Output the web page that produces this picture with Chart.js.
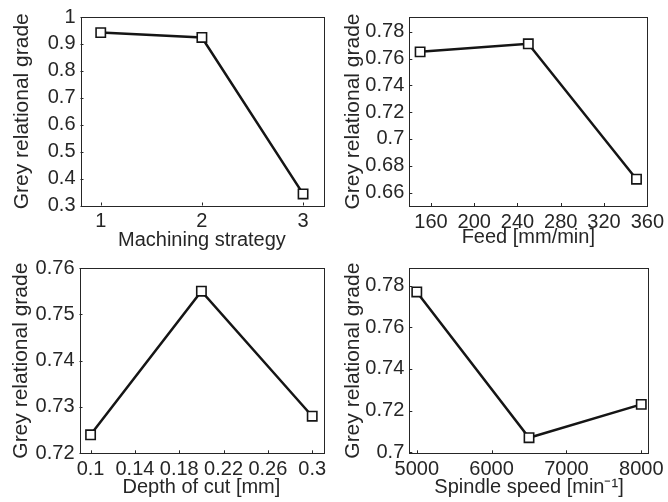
<!DOCTYPE html>
<html>
<head>
<meta charset="utf-8">
<script src="https://cdn.jsdelivr.net/npm/chart.js@4.4.1/dist/chart.umd.min.js"></script>
<style>
  body { margin: 0; background: #fff; }
  #wrap { position: relative; width: 668px; height: 502px; overflow: hidden; }
  .panel { position: absolute; width: 334px; height: 251px; }
</style>
</head>
<body>
<div id="wrap">
  <div class="panel" style="left:0;top:0"><canvas id="c1"></canvas></div>
  <div class="panel" style="left:334px;top:0"><canvas id="c2"></canvas></div>
  <div class="panel" style="left:0;top:251px"><canvas id="c3"></canvas></div>
  <div class="panel" style="left:334px;top:251px"><canvas id="c4"></canvas></div>
</div>
<script>
// Machining strategy
const strategyX = [1, 2, 3];
const strategyGrade = [0.942, 0.924, 0.343];
const strategyXTicks = [1, 2, 3];
const strategyYTicks = [0.3, 0.4, 0.5, 0.6, 0.7, 0.8, 0.9, 1];

// Feed
const feedX = [150, 250, 350];
const feedGrade = [0.765, 0.771, 0.670];
const feedXTicks = [160, 200, 240, 280, 320, 360];
const feedYTicks = [0.66, 0.68, 0.7, 0.72, 0.74, 0.76, 0.78];

// Depth of cut
const depthX = [0.1, 0.2, 0.3];
const depthGrade = [0.724, 0.755, 0.728];
const depthXTicks = [0.1, 0.14, 0.18, 0.22, 0.26, 0.3];
const depthYTicks = [0.72, 0.73, 0.74, 0.75, 0.76];

// Spindle speed
const speedX = [5000, 6500, 8000];
const speedGrade = [0.777, 0.707, 0.723];
const speedXTicks = [5000, 6000, 7000, 8000];
const speedYTicks = [0.7, 0.72, 0.74, 0.76, 0.78];

const yTitle = 'Grey relational grade';
const textColor = '#262626';
const fontFamily = '"Liberation Sans", Arial, Helvetica, sans-serif';

// box around the plot + short inward tick marks (matlab look)
const framePlugin = {
  id: 'frame',
  afterDraw(chart) {
    const { ctx, chartArea: a, scales } = chart;
    ctx.save();
    ctx.strokeStyle = textColor;
    ctx.lineWidth = 1;
    ctx.strokeRect(Math.round(a.left) + 0.5, Math.round(a.top) + 0.5,
      Math.round(a.right - a.left), Math.round(a.bottom - a.top));
    ctx.beginPath();
    scales.x.ticks.forEach(t => {
      const px = Math.round(scales.x.getPixelForValue(t.value)) + 0.5;
      ctx.moveTo(px, a.bottom);
      ctx.lineTo(px, a.bottom - 3);
    });
    scales.y.ticks.forEach(t => {
      const py = Math.round(scales.y.getPixelForValue(t.value)) + 0.5;
      ctx.moveTo(a.left, py);
      ctx.lineTo(a.left + 3, py);
    });
    ctx.stroke();
    ctx.restore();
  }
};

function makePanel(id, xs, ys, xTicks, yTicks, xRange, yRange, xTitle, box) {
  const ctx = document.getElementById(id).getContext('2d');
  return new Chart(ctx, {
    type: 'line',
    data: {
      datasets: [{
        data: xs.map((x, i) => ({ x: x, y: ys[i] })),
        borderColor: '#151515',
        borderWidth: 2.5,
        pointStyle: 'rect',
        pointRadius: 6.6,
        pointBorderWidth: 1.6,
        pointBorderColor: '#151515',
        pointBackgroundColor: '#ffffff',
        tension: 0,
        clip: false
      }]
    },
    options: {
      responsive: true,
      maintainAspectRatio: false,
      animation: false,
      events: [],
      layout: { padding: { top: box.top, right: box.right, left: 0, bottom: 0 } },
      plugins: { legend: { display: false }, tooltip: { enabled: false } },
      scales: {
        x: {
          type: 'linear',
          min: xRange[0],
          max: xRange[1],
          afterBuildTicks: s => { s.ticks = xTicks.map(v => ({ value: v })); },
          afterFit: s => { s.height = box.xh; },
          grid: { display: false, drawTicks: false },
          border: { display: false },
          ticks: {
            color: textColor,
            padding: 4,
            maxRotation: 0,
            autoSkip: false,
            font: { family: fontFamily, size: 20 },
            callback: v => String(v)
          },
          title: {
            display: true,
            text: xTitle,
            color: textColor,
            padding: { top: 0, bottom: box.xtp },
            font: { family: fontFamily, size: 20 }
          }
        },
        y: {
          type: 'linear',
          min: yRange[0],
          max: yRange[1],
          afterBuildTicks: s => { s.ticks = yTicks.map(v => ({ value: v })); },
          afterFit: s => { s.width = box.yw; },
          grid: { display: false, drawTicks: false },
          border: { display: false },
          ticks: {
            color: textColor,
            padding: 5,
            autoSkip: false,
            font: { family: fontFamily, size: 20 },
            callback: v => String(v)
          },
          title: {
            display: true,
            text: yTitle,
            color: textColor,
            padding: { top: box.ytp, bottom: 0 },
            font: { family: fontFamily, size: 21 }
          }
        }
      }
    },
    plugins: [framePlugin]
  });
}

makePanel('c1', strategyX, strategyGrade, strategyXTicks, strategyYTicks,
  [0.8, 3.2], [0.3, 1], 'Machining strategy',
  { top: 13.5, right: 10.7, yw: 80.5, xh: 45.5, xtp: -1, ytp: 10 });

makePanel('c2', feedX, feedGrade, feedXTicks, feedYTicks,
  [140, 360], [0.65, 0.791], 'Feed [mm/min]',
  { top: 14, right: 15, yw: 75.3, xh: 45, xtp: 2, ytp: 7 });

makePanel('c3', depthX, depthGrade, depthXTicks, depthYTicks,
  [0.09, 0.31], [0.72, 0.76], 'Depth of cut [mm]',
  { top: 10, right: 10.7, yw: 79.5, xh: 48.7, xtp: 2.5, ytp: 8.6 });

makePanel('c4', speedX, speedGrade, speedXTicks, speedYTicks,
  [4900, 8100], [0.6995, 0.7885], ['Spindle speed [min\u207B\u00B9]'],
  { top: 10, right: 15, yw: 75.3, xh: 48.7, xtp: 2.5, ytp: 7 });
</script>
</body>
</html>
